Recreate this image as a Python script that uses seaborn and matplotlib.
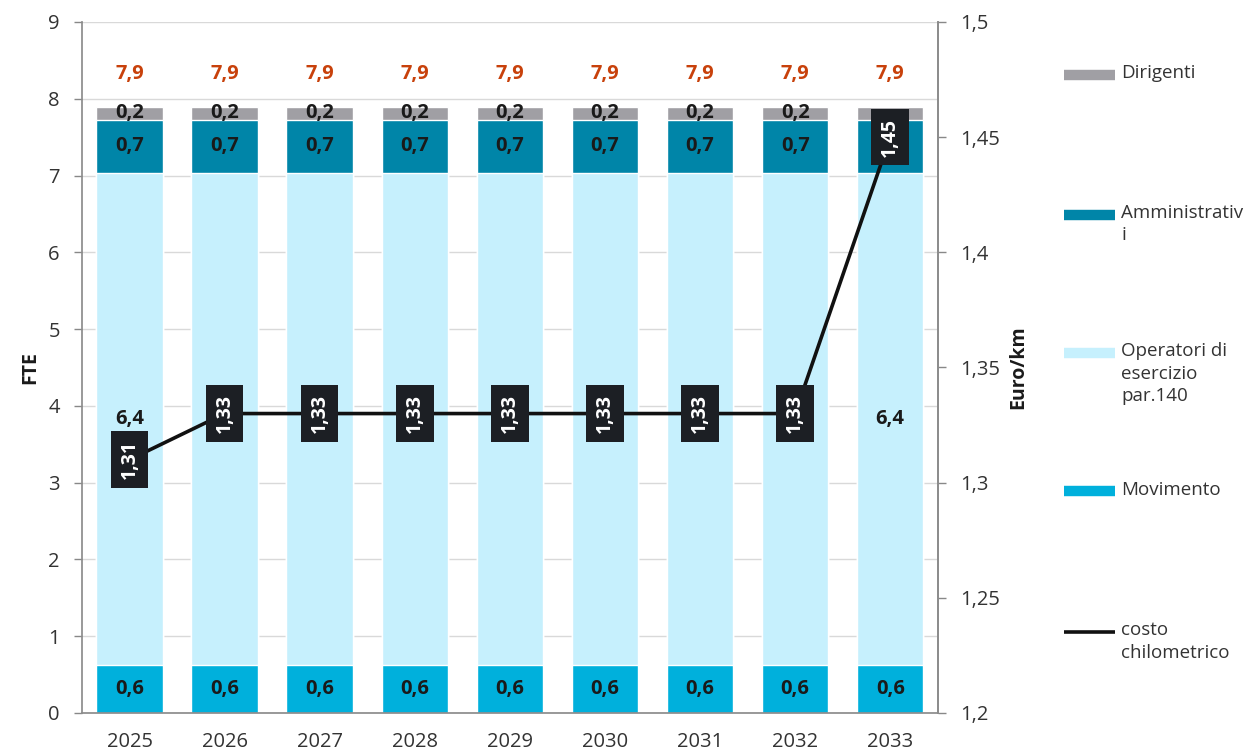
import numpy as np
import pandas as pd
import matplotlib
matplotlib.use("Agg")
import matplotlib.pyplot as plt
import seaborn as sns

years = ["2025", "2026", "2027", "2028", "2029", "2030", "2031", "2032", "2033"]
movimento = [0.63] * 9
operatori = [6.4] * 9
amministrativi = [0.7] * 9
dirigenti = [0.16] * 9
totale_lbl = ["7,9"] * 9
costo_km = [1.31, 1.33, 1.33, 1.33, 1.33, 1.33, 1.33, 1.33, 1.45]

series = [
    ("Movimento", movimento, "#00B0DC"),
    ("Operatori di\nesercizio\npar.140", operatori, "#C6F0FD"),
    ("Amministrativ\ni", amministrativi, "#0085A8"),
    ("Dirigenti", dirigenti, "#A09FA4"),
]

sns.set_theme(style="white")
plt.rcParams["font.family"] = ["Open Sans", "DejaVu Sans"]

fig = plt.figure(figsize=(12.47, 7.56), dpi=100)
ax = fig.add_axes([0.0658, 0.0569, 0.6862, 0.9140])

df = pd.DataFrame({"year": years})
cum = np.zeros(len(years))
bottoms = []
for name, vals, col in series:
    bottoms.append(cum.copy())
    cum = cum + np.array(vals)
    df[name] = cum

# cumulative bars drawn tallest first, so they look stacked
for name, vals, col in reversed(series):
    sns.barplot(data=df, x="year", y=name, color=col, width=0.7,
                saturation=1, ax=ax, zorder=2)

y1, y2 = (0, 9), (1.2, 1.5)
x = np.arange(len(years))
for (name, vals, col), bot in zip(series, bottoms):
    for i in range(len(years)):
        v = vals[i]
        yc = bot[i] + v / 2
        # labels hidden under the line's value box are not shown (as in the original)
        line_pos = (costo_km[i] - y2[0]) / (y2[1] - y2[0]) * y1[1]
        if abs(line_pos - yc) < 0.4:
            continue
        ax.text(x[i], yc, f"{v:.1f}".replace(".", ","),
                ha="center", va="center", fontsize=14.5, fontweight="bold",
                color="#1a1a1a", zorder=3)
for i in range(len(years)):
    ax.text(x[i], 8.32, totale_lbl[i], ha="center", va="center", fontsize=14.5,
            fontweight="bold", color="#C8410B", zorder=3)

ax.set_xlim(-0.5, len(years) - 0.5)
ax.set_ylim(*y1)
ax.set_yticks(range(0, 10))
ax.yaxis.grid(True, color="#D9D9D9", linewidth=1)
ax.set_axisbelow(True)
ax.set_xlabel("")
ax.set_ylabel("FTE", fontsize=14, fontweight="bold", color="#1a1a1a", labelpad=6)
ax.set_xticks(x)
ax.set_xticklabels(years)
ax.set_xticks(np.arange(-0.5, len(years)), minor=True)
ax.tick_params(axis="x", which="major", length=0, labelsize=14.5, colors="#333333", pad=14)
ax.tick_params(axis="x", which="minor", length=7, width=1, color="#888888", direction="out")
ax.tick_params(axis="y", length=6, width=1, color="#888888", labelsize=14.5,
               labelcolor="#333333", left=True, pad=10)
ax.spines["top"].set_visible(False)
for s in ["left", "bottom", "right"]:
    ax.spines[s].set_color("#8C8C8C")

ax2 = ax.twinx()
sns.lineplot(x=x, y=costo_km, color="#111111", linewidth=2.6, ax=ax2, zorder=4)
ax2.set_ylim(*y2)
ticks2 = np.arange(1.2, 1.5001, 0.05)
ax2.set_yticks(ticks2)
ax2.set_yticklabels([f"{t:.2f}".rstrip("0").rstrip(".").replace(".", ",") for t in ticks2])
ax2.tick_params(axis="y", length=6, width=1, color="#888888", labelsize=14.5,
                labelcolor="#333333", right=True, pad=10)
ax2.set_ylabel("Euro/km", fontsize=14, fontweight="bold", color="#1a1a1a", labelpad=6)
for s in ["top", "left", "bottom"]:
    ax2.spines[s].set_visible(False)
ax2.spines["right"].set_color("#8C8C8C")
ax2.grid(False)
for i, v in enumerate(costo_km):
    ax2.text(x[i], v, f"{v:.2f}".replace(".", ","), rotation=90, ha="center",
             va="center", fontsize=14, fontweight="bold", color="white", zorder=5,
             bbox=dict(boxstyle="square,pad=0.45", facecolor="#1C1F24", edgecolor="none"))

# legend on the right
leg_y = [0.901, 0.716, 0.533, 0.350, 0.164]
leg_items = [("Dirigenti", "#A09FA4", "bar"),
             ("Amministrativ\ni", "#0085A8", "bar"),
             ("Operatori di\nesercizio\npar.140", "#C6F0FD", "bar"),
             ("Movimento", "#00B0DC", "bar"),
             ("costo\nchilometrico", "#111111", "line")]
for (lab, col, kind), yy in zip(leg_items, leg_y):
    lw = 7.5 if kind == "bar" else 2.6
    fig.add_artist(plt.Line2D([0.8530, 0.8940], [yy, yy], color=col, linewidth=lw,
                              solid_capstyle="butt", transform=fig.transFigure))
    fig.text(0.8990, yy + 0.014, lab, ha="left", va="top", fontsize=13.5,
             color="#333333", linespacing=1.3)

fig.savefig("out.png", dpi=100)
